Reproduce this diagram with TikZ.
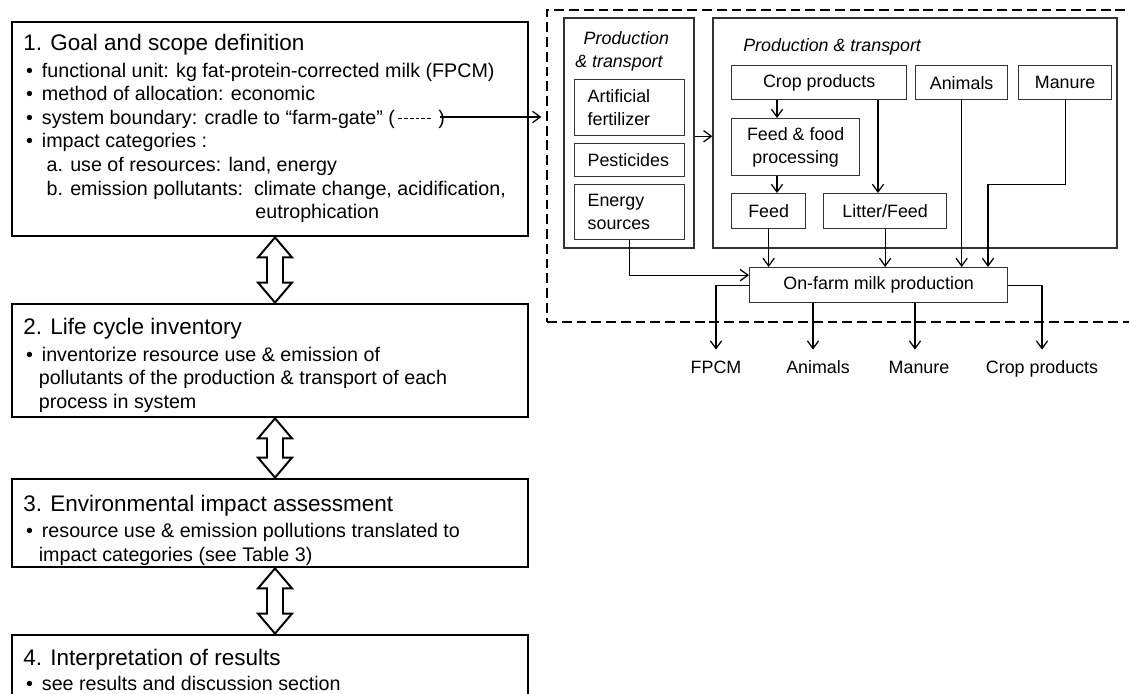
\documentclass[tikz,border=0pt]{standalone}
\usepackage{fontspec}
\setmainfont{Liberation Sans}
\usetikzlibrary{positioning,calc,fit,arrows.meta}

\newcommand{\bul}{\hspace*{2pt}\makebox[11.2pt][l]{\textbullet}}
\newcommand{\ind}{\hspace*{11pt}}
\newcommand{\dashmark}{\raisebox{0.3em}{\rule{2.8pt}{0.6pt}}\hspace{1.3pt}}

\begin{document}
\begin{tikzpicture}[x=0.025cm, y=-0.025cm,
  stage/.style={draw, line width=2pt, inner sep=0pt},
  stagetext/.style={anchor=north west, inner sep=0pt, align=left,
    font=\fontsize{14}{16.8}\selectfont},
  bound/.style={draw, line width=2pt, dash pattern=on 7pt off 3.5pt, inner sep=0pt},
  group/.style={draw=black!80, line width=0.9pt, inner sep=0pt},
  grouplabel/.style={inner sep=0pt, align=left, font=\fontsize{12.7}{16.4}\selectfont\itshape},
  item/.style={draw=black!80, line width=0.9pt, inner sep=0pt, align=center,
    anchor=north west, font=\fontsize{12.7}{16.4}\selectfont},
  outlabel/.style={inner sep=0pt, text height=9.5pt, text depth=2.7pt,
    font=\fontsize{12.7}{16.4}\selectfont},
  flow/.style={-{Straight Barb[length=5.5pt,width=8pt]}, line width=0.9pt},
  dblarr/.style={draw, line width=1.4pt, fill=white, line join=miter}]
\useasboundingbox (0,0) rectangle (1129,694);

% Stages
\node [stage, fit={(12,22) (528,236)}] (goal) {};
\node [stage, fit={(12,304) (528,417)}] (inv) {};
\node [stage, fit={(12,479) (528,567)}] (imp) {};
\node [stage, fit={(12,635) (528,730)}] (interp) {};

\node [stagetext] (goaltxt) at ($(goal.north west)+(12.5,13.5)$) {%
  {\fontsize{16}{16.8}\selectfont 1. Goal and scope definition}\\[2pt]
  \bul functional unit: kg fat-protein-corrected milk (FPCM)\\
  \bul method of allocation: economic\\
  \bul system boundary: cradle to “farm-gate” (\,\dashmark\dashmark\dashmark\dashmark\dashmark\dashmark\ )\\
  \bul impact categories :\\
  \hspace*{16.5pt}a. use of resources: land, energy\\
  \hspace*{16.5pt}b. emission pollutants:\ \ climate change, acidification,\\
  \hspace*{165pt}eutrophication};
\node [stagetext] (invtxt) at ($(inv.north west)+(12.5,15.5)$) {%
  {\fontsize{16}{16.8}\selectfont 2. Life cycle inventory}\\[2pt]
  \bul inventorize resource use \& emission of\\
  \ind pollutants of the production \& transport of each\\
  \ind process in system};
\node [stagetext] (imptxt) at ($(imp.north west)+(12.5,17)$) {%
  {\fontsize{16}{16.8}\selectfont 3. Environmental impact assessment}\\[2pt]
  \bul resource use \& emission pollutions translated to\\
  \ind impact categories (see Table 3)};
\node [stagetext] (interptxt) at ($(interp.north west)+(12.5,15)$) {%
  {\fontsize{16}{16.8}\selectfont 4. Interpretation of results}\\[1pt]
  \bul see results and discussion section};

% Double arrows between stages
\foreach \ua/\ub in {goal/inv, inv/imp, imp/interp}
  \draw [dblarr] ($(\ua.south)+(5,0)$) -- ++(17,20) -- ++(-9,0)
    -- ($(\ub.north)+(13,-20)$) -- ++(9,0) -- ($(\ub.north)+(5,0)$)
    -- ++(-17,-20) -- ++(9,0) -- ($(\ua.south)+(-3,20)$) -- ++(-9,0) -- cycle;

% System boundary
\node [bound, fit={(547,10) (1160,322)}] (sysb) {};
\coordinate (gate) at (440,117);
\draw [flow, shorten >=3pt] (gate) -- (gate -| sysb.west);

% Production & transport groups
\node [group, fit={(564,18) (694,248)}] (pt1) {};
\node [group, fit={(713,18) (1117,248)}] (pt2) {};
\node [grouplabel, anchor=west] (pt1lab) at (575,51) {\hspace*{6pt}Production\\\& transport};
\node [grouplabel, anchor=west] (pt2lab) at (743,47) {Production \& transport};

\node [item, text width=2.1cm, align=left, minimum width=2.75cm, minimum height=1.4cm] (fert) at (574,79) {Artificial\\fertilizer};
\node [item, text width=2.1cm, align=left, minimum width=2.75cm, minimum height=0.825cm] (pest) at (574,143) {Pesticides};
\node [item, text width=2.1cm, align=left, minimum width=2.75cm, minimum height=1.375cm] (ener) at (574,184) {Energy\\sources};

\node [item, minimum width=4.375cm, minimum height=0.85cm] (crop) at (731,65) {Crop products};
\node [item, minimum width=2.3cm, minimum height=0.85cm] (anim) at (915,65) {Animals};
\node [item, minimum width=2.325cm, minimum height=0.85cm] (manu) at (1018,65) {Manure};
\node [item, minimum width=3.2cm, minimum height=1.425cm] (proc) at (731,118) {Feed \& food\\processing};
\node [item, minimum width=1.85cm, minimum height=0.875cm] (feed) at (731,193) {Feed};
\node [item, minimum width=3.075cm, minimum height=0.875cm] (litt) at (823,193) {Litter/Feed};
\node [item, minimum width=6.45cm, minimum height=0.875cm] (farm) at (749,267) {On-farm milk production};

% Flows
\draw [flow] (pt1.east |- fert.south) -- (pt2.west |- fert.south);
\draw [flow] ($(crop.south west)+(46,0)$) -- ($(proc.north west)+(46,0)$);
\draw [flow] ($(proc.south west)+(46,0)$) -- ($(feed.north west)+(46,0)$);
\draw [flow] ($(crop.south west)+(147,0)$) -- ($(litt.north west)+(55,0)$);
\draw [flow] (feed.south) -- (feed.south |- farm.north);
\draw [flow] (litt.south) -- (litt.south |- farm.north);
\draw [flow] (anim.south) -- (anim.south |- farm.north);
\draw [flow] (manu.south) -- ++(0,84) -| ($(farm.north west)+(239,0)$);
\draw [flow] (ener.south) |- ($(farm.west)+(0,-10)$);

% Outputs
\node [outlabel] (ofpcm) at (716,369) {FPCM};
\node [outlabel] (oanim) at (818,369) {Animals};
\node [outlabel] (omanu) at (919,369) {Manure};
\node [outlabel] (ocrop) at (1042,369) {Crop products};
\coordinate (a1) at ($(farm.south west)+(64,0)$);
\coordinate (a2) at ($(farm.south west)+(166,0)$);
\draw [flow, shorten >=7.5pt] (farm.west) -| (ofpcm.north);
\draw [flow, shorten >=7.5pt] (a1) -- (a1 |- oanim.north);
\draw [flow, shorten >=7.5pt] (a2) -- (a2 |- omanu.north);
\draw [flow, shorten >=7.5pt] (farm.east) -| (ocrop.north);
\end{tikzpicture}
\end{document}
